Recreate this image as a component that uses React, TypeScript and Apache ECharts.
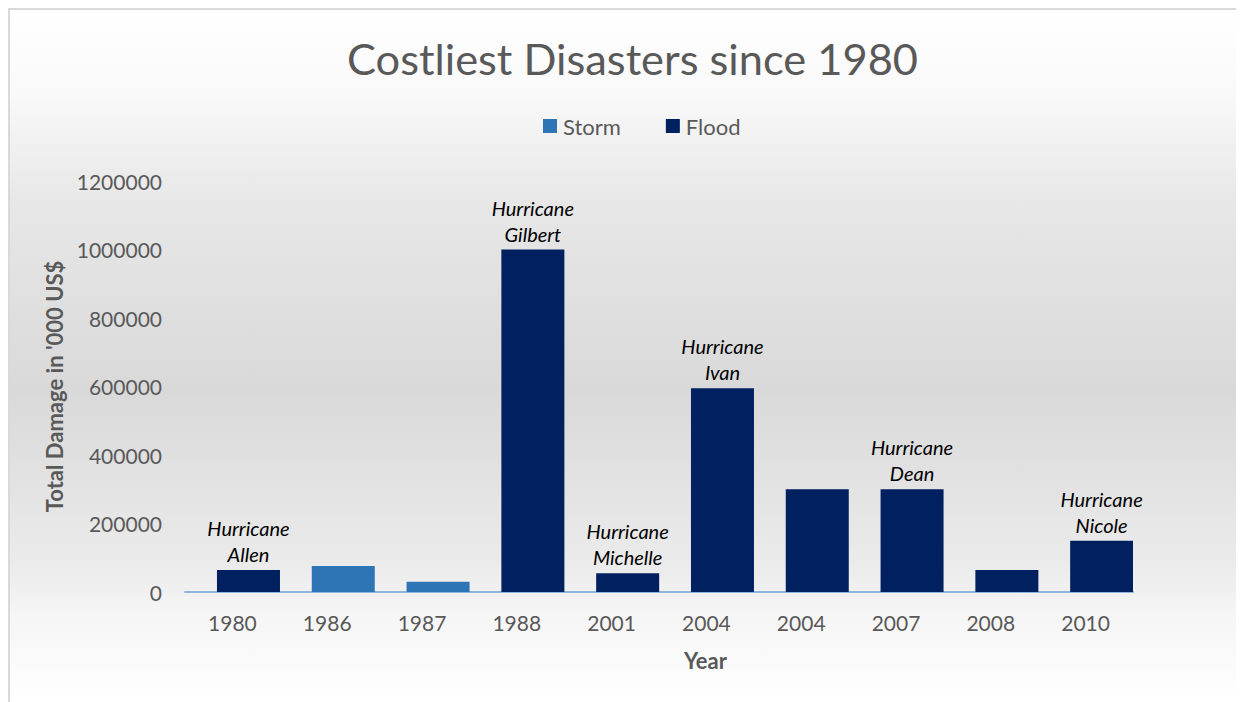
import React, { useEffect, useRef } from "react";
import * as echarts from "echarts";

const categories = ["1980", "1986", "1987", "1988", "2001", "2004", "2004", "2007", "2008", "2010"];
const stormValues = [null, 76000, 30000, null, null, null, null, null, null, null];
const floodValues = [64000, null, null, 1000000, 55000, 595000, 300000, 300000, 64000, 150000];
const hurricaneNames = ["Allen", "", "", "Gilbert", "Michelle", "Ivan", "", "Dean", "", "Nicole"];
const yTicks = [0, 200000, 400000, 600000, 800000, 1000000, 1200000];
const emptyValues = categories.map(() => null);

const FONT = "Lato, 'Open Sans', sans-serif";
const BAR_W = 63;
const BAR_GAP = "-49%";

export default function App() {
  const ref = useRef<HTMLDivElement>(null);
  useEffect(() => {
    if (!ref.current) return;
    const chart = echarts.init(ref.current, null, { renderer: "svg" });
    chart.setOption({
      animation: false,
      backgroundColor: new echarts.graphic.LinearGradient(0, 0, 0, 1, [
        { offset: 0, color: "#ffffff" },
        { offset: 0.12, color: "#f9f9f9" },
        { offset: 0.28, color: "#e7e7e7" },
        { offset: 0.55, color: "#d9d9d9" },
        { offset: 0.8, color: "#ebebeb" },
        { offset: 0.87, color: "#f5f5f5" },
        { offset: 1, color: "#ffffff" },
      ]),
      textStyle: { fontFamily: FONT },
      title: {
        text: "Costliest Disasters since 1980",
        left: 332,
        top: 21,
        textStyle: { fontFamily: FONT, fontSize: 43.4, fontWeight: "normal", color: "#595959" },
      },
      legend: {
        left: 528,
        top: 100,
        itemWidth: 14,
        itemHeight: 14,
        itemGap: 45,
        icon: "rect",
        textStyle: { fontFamily: FONT, fontSize: 22, color: "#595959", padding: [0, 0, 0, 1] },
        data: ["Storm", "Flood"],
      },
      grid: { left: 175, right: 111, top: 171, bottom: 110, containLabel: false },
      xAxis: {
        type: "category",
        data: categories,
        axisLine: { show: true, lineStyle: { color: "#8fb4de", width: 2 } },
        axisTick: { show: false },
        axisLabel: { fontFamily: FONT, fontSize: 21, color: "#595959", margin: 20 },
      },
      yAxis: {
        type: "value",
        min: 0,
        max: yTicks[yTicks.length - 1],
        interval: yTicks[1] - yTicks[0],
        splitLine: { show: false },
        axisLine: { show: false },
        axisTick: { show: false },
        axisLabel: {
          fontFamily: FONT,
          fontSize: 21,
          color: "#595959",
          margin: 23,
          formatter: (v: number) => String(v),
        },
        name: "Total Damage in '000 US$",
        nameLocation: "middle",
        nameGap: 115,
        nameTextStyle: { fontFamily: FONT, fontSize: 22, fontWeight: "bold", color: "#595959" },
      },
      graphic: [
        {
          type: "text",
          left: 674,
          top: 639,
          style: { text: "Year", font: `bold 22px ${FONT}`, fill: "#595959" },
        },
      ],
      series: [
        {
          name: "",
          type: "bar",
          barWidth: BAR_W,
          barGap: BAR_GAP,
          data: emptyValues,
          silent: true,
        },
        {
          name: "Storm",
          type: "bar",
          stack: "all",
          barWidth: BAR_W,
          barGap: BAR_GAP,
          data: stormValues,
          itemStyle: { color: "#2e75b6" },
        },
        {
          name: "Flood",
          type: "bar",
          stack: "all",
          barWidth: BAR_W,
          barGap: BAR_GAP,
          data: floodValues,
          itemStyle: { color: "#002060" },
          label: {
            show: true,
            position: "top",
            distance: 3,
            fontFamily: FONT,
            fontSize: 20,
            fontStyle: "italic",
            color: "#000000",
            lineHeight: 26,
            formatter: (p: any) => (hurricaneNames[p.dataIndex] ? `Hurricane\n${hurricaneNames[p.dataIndex]}` : ""),
          },
        },
      ],
    });
    return () => chart.dispose();
  }, []);
  return (
    <div style={{ borderTop: "2px solid #d9d9d9", borderLeft: "2px solid #d9d9d9", width: 1234, height: 692 }}>
      <div ref={ref} style={{ width: 1234, height: 692 }} />
    </div>
  );
}
